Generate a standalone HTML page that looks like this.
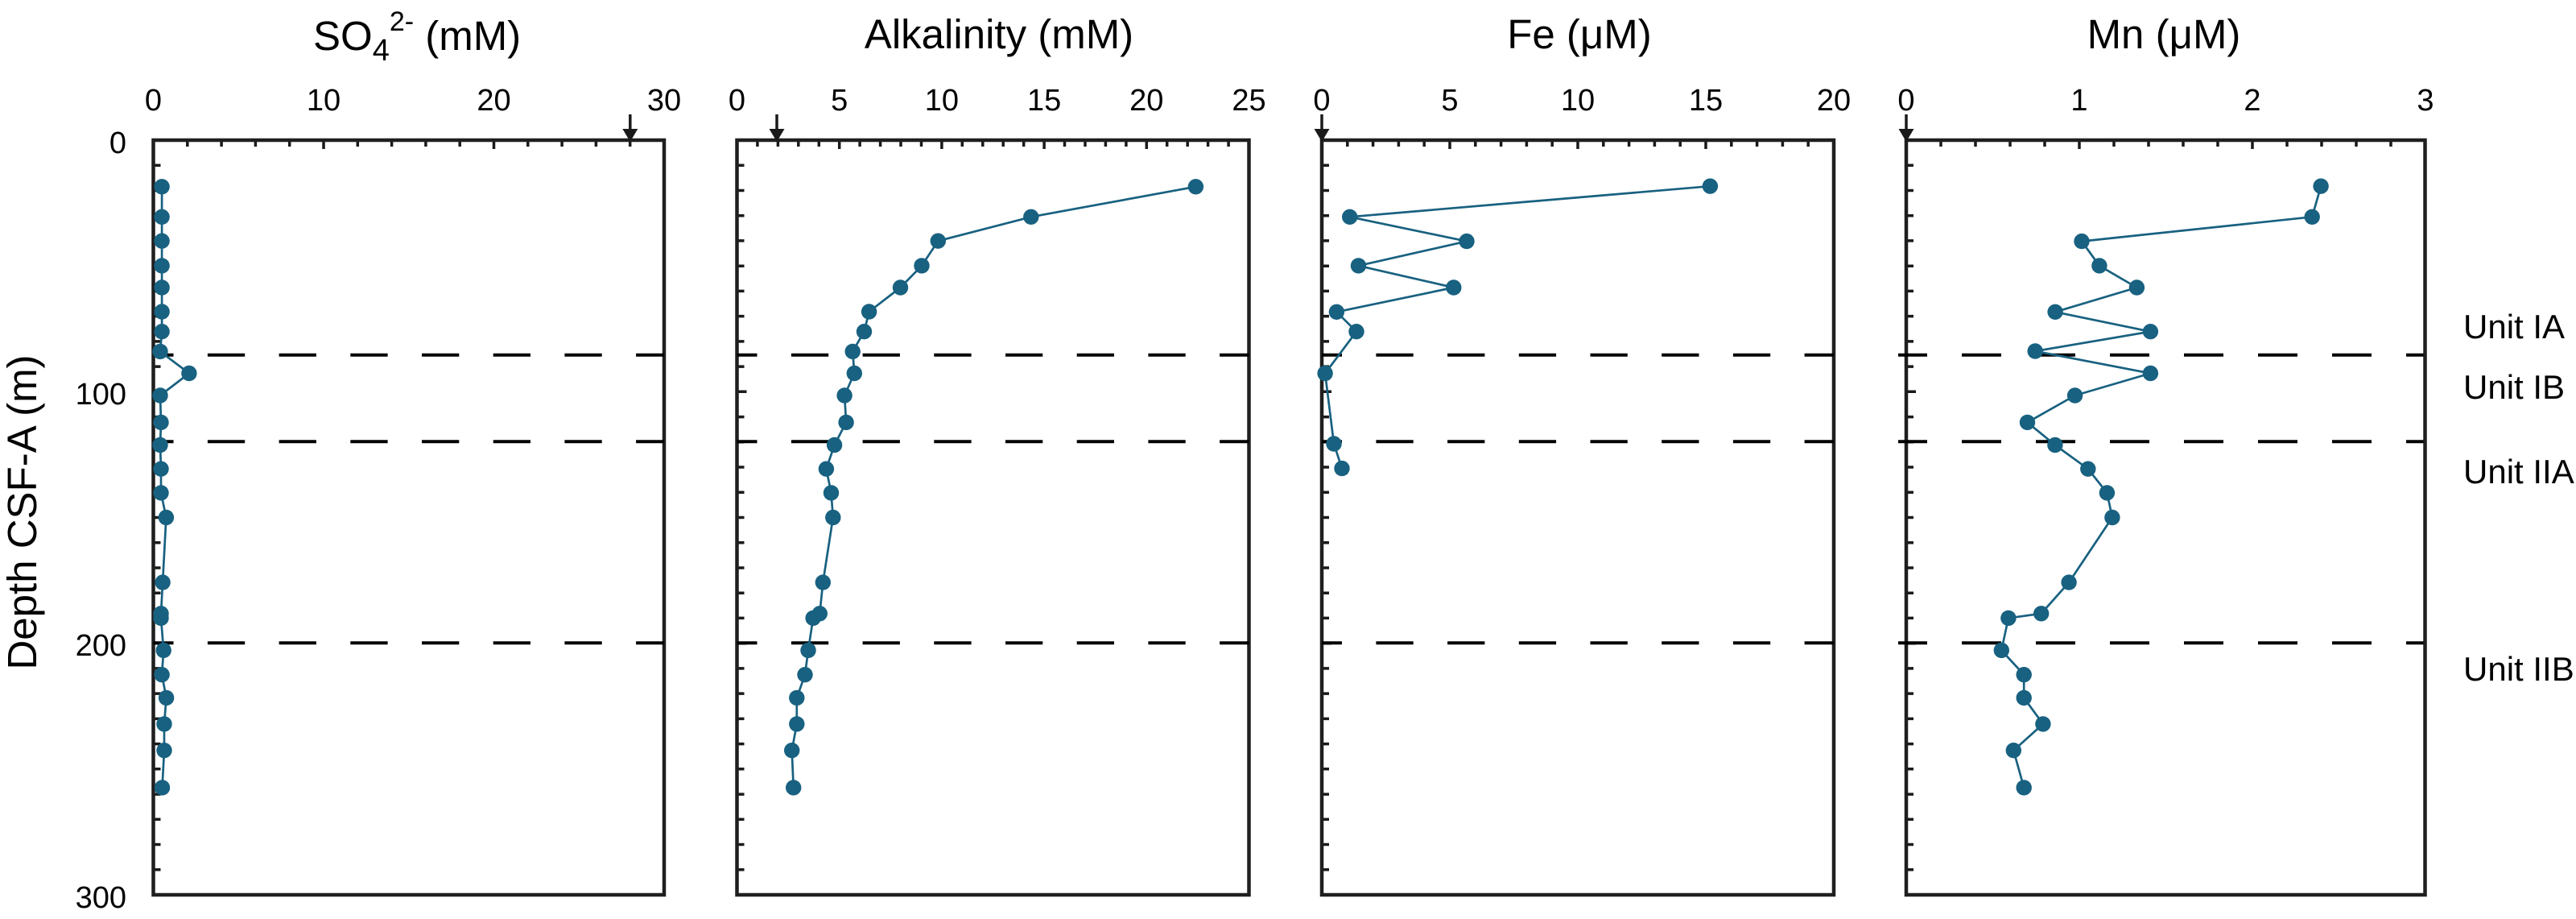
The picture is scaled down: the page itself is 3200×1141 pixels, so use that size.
<!DOCTYPE html>
<html>
<head>
<meta charset="utf-8">
<style>
html,body{margin:0;padding:0;background:#fff;}
svg{display:block;}
text{font-family:"Liberation Sans",Arial,sans-serif;fill:#000;}
</style>
</head>
<body>
<svg width="3200" height="1141" viewBox="0 0 3200 1141" xmlns="http://www.w3.org/2000/svg">
<defs>
<marker id="dot" markerWidth="22" markerHeight="22" refX="11" refY="11" markerUnits="userSpaceOnUse">
<circle cx="11" cy="11" r="9.7" fill="#186180"/>
</marker>
<path id="lt" d="M0 205.2h9M0 236.5h9M0 267.7h9M0 298.9h9M0 330.2h9M0 361.4h9M0 392.6h9M0 423.9h9M0 455.1h9M0 486.3h12M0 517.6h9M0 548.8h9M0 580h9M0 611.3h9M0 642.5h9M0 673.7h9M0 705h9M0 736.2h9M0 767.4h9M0 798.7h12M0 829.9h9M0 861.1h9M0 892.4h9M0 923.6h9M0 954.8h9M0 986.1h9M0 1017.3h9M0 1048.5h9M0 1079.8h9" stroke="#1a1a1a" stroke-width="3.5" fill="none"/>
</defs>

<!-- Titles -->
<text x="389" y="62" font-size="51">SO<tspan font-size="38" dy="13">4</tspan><tspan font-size="34" dy="-37">2-</tspan><tspan dy="24"> (mM)</tspan></text>
<text x="1241" y="60" font-size="51" text-anchor="middle">Alkalinity (mM)</text>
<text x="1962" y="60" font-size="51" text-anchor="middle">Fe (μM)</text>
<text x="2688" y="60" font-size="51" text-anchor="middle">Mn (μM)</text>

<!-- Y label -->
<text transform="translate(45,636) rotate(-90)" font-size="51" text-anchor="middle">Depth CSF-A (m)</text>

<!-- Y tick labels -->
<g font-size="38" text-anchor="end">
<text x="157" y="190">0</text>
<text x="157" y="502">100</text>
<text x="157" y="814">200</text>
<text x="157" y="1127">300</text>
</g>

<!-- Top tick labels -->
<g font-size="38" text-anchor="middle">
<text x="190.5" y="137">0</text><text x="402" y="137">10</text><text x="613.5" y="137">20</text><text x="825" y="137">30</text>
<text x="915.5" y="137">0</text><text x="1042.7" y="137">5</text><text x="1169.9" y="137">10</text><text x="1297.1" y="137">15</text><text x="1424.3" y="137">20</text><text x="1551.5" y="137">25</text>
<text x="1642" y="137">0</text><text x="1801" y="137">5</text><text x="1960" y="137">10</text><text x="2119" y="137">15</text><text x="2278" y="137">20</text>
<text x="2368" y="137">0</text><text x="2583" y="137">1</text><text x="2798" y="137">2</text><text x="3013" y="137">3</text>
</g>

<!-- Unit labels -->
<g font-size="42">
<text x="3060" y="420">Unit IA</text>
<text x="3060" y="495">Unit IB</text>
<text x="3060" y="600">Unit IIA</text>
<text x="3060" y="845">Unit IIB</text>
</g>

<!-- Top ticks -->
<g stroke="#1a1a1a" stroke-width="3.5" fill="none">
<path d="M232.8 174v8M275.1 174v8M317.4 174v8M359.7 174v8M402 174v11M444.3 174v8M486.6 174v8M528.9 174v8M571.2 174v8M613.5 174v11M655.8 174v8M698.1 174v8M740.4 174v8M782.7 174v8"/>
<path d="M940.9 174v8M966.4 174v8M991.8 174v8M1017.3 174v8M1042.7 174v11M1068.1 174v8M1093.6 174v8M1119 174v8M1144.5 174v8M1169.9 174v11M1195.3 174v8M1220.8 174v8M1246.2 174v8M1271.7 174v8M1297.1 174v11M1322.5 174v8M1348 174v8M1373.4 174v8M1398.9 174v8M1424.3 174v11M1449.7 174v8M1475.2 174v8M1500.6 174v8M1526.1 174v8"/>
<path d="M1673.8 174v8M1705.6 174v8M1737.4 174v8M1769.2 174v8M1801 174v11M1832.8 174v8M1864.6 174v8M1896.4 174v8M1928.2 174v8M1960 174v11M1991.8 174v8M2023.6 174v8M2055.4 174v8M2087.2 174v8M2119 174v11M2150.8 174v8M2182.6 174v8M2214.4 174v8M2246.2 174v8"/>
<path d="M2411 174v8M2454 174v8M2497 174v8M2540 174v8M2583 174v11M2626 174v8M2669 174v8M2712 174v8M2755 174v8M2798 174v11M2841 174v8M2884 174v8M2927 174v8M2970 174v8"/>
</g>

<!-- Left ticks -->
<use href="#lt" x="190.5"/>
<use href="#lt" x="915.5"/>
<use href="#lt" x="1642"/>
<use href="#lt" x="2368"/>

<!-- Frames -->
<g stroke="#1f1f1f" stroke-width="4.5" fill="none">
<rect x="190.5" y="174" width="634.5" height="937"/>
<rect x="915.5" y="174" width="636" height="937"/>
<rect x="1642" y="174" width="636" height="937"/>
<rect x="2368" y="174" width="644.5" height="937"/>
</g>

<!-- Arrows -->
<g stroke="#1a1a1a" stroke-width="3.5">
<line x1="782.8" y1="142" x2="782.8" y2="162"/>
<line x1="965" y1="142" x2="965" y2="162"/>
<line x1="1642" y1="142" x2="1642" y2="162"/>
<line x1="2368" y1="142" x2="2368" y2="162"/>
</g>
<g fill="#1a1a1a">
<polygon points="773.3,160 792.3,160 782.8,176"/>
<polygon points="955.5,160 974.5,160 965,176"/>
<polygon points="1632.5,160 1651.5,160 1642,176"/>
<polygon points="2358.5,160 2377.5,160 2368,176"/>
</g>

<!-- Dashed unit boundaries -->
<g stroke="#000" stroke-width="4" fill="none" stroke-dasharray="46.3 42.4" stroke-dashoffset="21.3">
<path d="M190.5 440.7H825M190.5 548.3H825M190.5 798.3H825"/>
<path d="M915.5 440.7H1551.5M915.5 548.3H1551.5M915.5 798.3H1551.5"/>
<path d="M1642 440.7H2278M1642 548.3H2278M1642 798.3H2278"/>
</g>
<g stroke="#000" stroke-width="4" fill="none" stroke-dasharray="49 43" stroke-dashoffset="13">
<path d="M2358 440.7H3010.5M2358 548.3H3010.5M2358 798.3H3010.5"/>
</g>

<!-- Series -->
<g stroke="#186180" stroke-width="2.7" fill="none" stroke-linejoin="round" marker-start="url(#dot)" marker-mid="url(#dot)" marker-end="url(#dot)">
<polyline points="201.1,231.8 201.1,269.3 201.1,299.2 201.1,329.9 201.1,357 201.1,387 201.1,411.7 199,436.4 234.9,463.5 199,491 200,524.4 199,552.5 200,582.2 200,611.9 206.4,642.5 202.1,723.1 200,761.8 200,767.4 203.2,807.4 201.1,837.7 206.6,866.4 204,898.9 204,931.7 201.5,977.9"/>
<polyline points="1485.4,231.8 1280.8,269.3 1165.3,299.2 1145,329.9 1118.5,357 1079.6,387 1073.5,411.7 1059.2,436.4 1061.3,463.5 1049.1,491 1051.1,524.4 1036.6,552.5 1026.4,582.2 1032.5,611.9 1034.8,642.5 1022.3,723.1 1018.3,761.8 1010.1,767.4 1004,807.4 1000,837.7 989.8,866.4 989.8,898.9 983.7,931.7 985.7,977.9"/>
<polyline points="2124.4,231.2 1676.7,269.3 1822,299.6 1687.5,329.9 1805.8,357 1660.4,387.3 1685,411.7 1646.1,463.5 1657,551 1667,581.6"/>
<polyline points="2883.1,231.2 2872.2,269.3 2586,299.6 2607.9,329.9 2654.4,357 2553.1,387.3 2671.4,411.7 2528.2,436 2671.4,463.5 2577.6,491 2518.5,524.4 2552.9,552.5 2593.8,582.2 2617.4,611.9 2623.9,642.5 2570.1,723.1 2535.7,761.8 2494.9,767.4 2486.3,807.4 2514.2,837.7 2514.2,866.4 2537.9,898.9 2501.3,931.7 2514.2,977.9"/>
</g>
</svg>
</body>
</html>
